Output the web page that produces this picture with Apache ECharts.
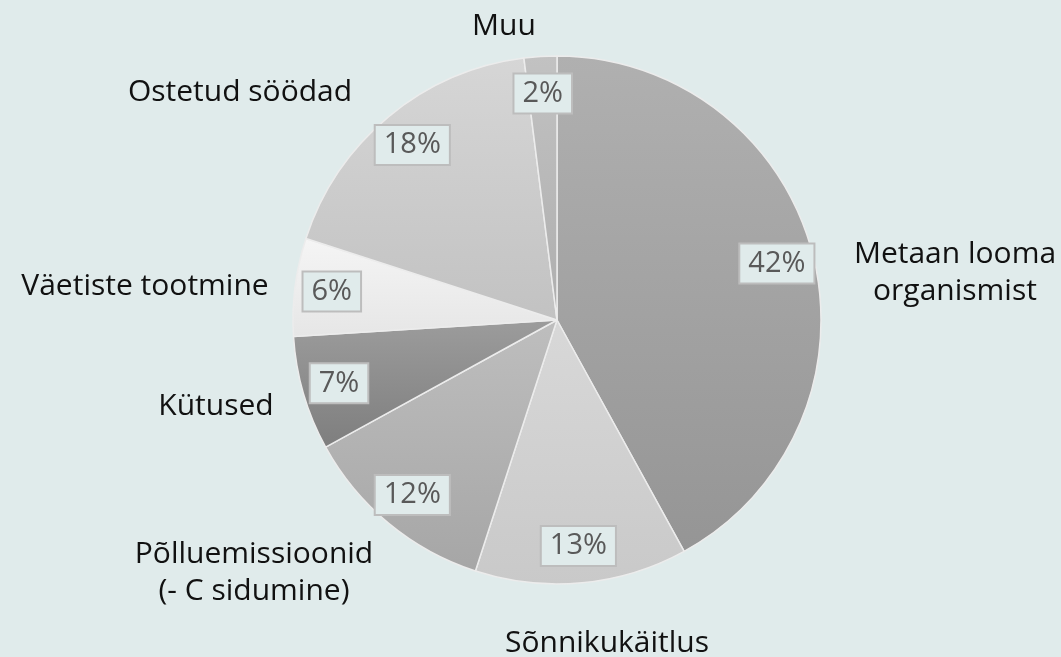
<!DOCTYPE html>
<html><head><meta charset="utf-8">
<script src="https://cdn.jsdelivr.net/npm/echarts@6/dist/echarts.min.js"></script>
<style>html,body{margin:0;padding:0;background:#e0ebeb}#c{width:1061px;height:657px}</style>
</head><body><div id="c"></div>
<script>
// ---- data ----
const categories = ['Metaan looma\norganismist', 'Sõnnikukäitlus', 'Põlluemissioonid\n(- C sidumine)', 'Kütused', 'Väetiste tootmine', 'Ostetud söödad', 'Muu'];
const shares = [42, 13, 12, 7, 6, 18, 2];

// ---- styles / layout (not data) ----
const sliceTop    = ['#b0b0b0', '#d8d8d8', '#bebebe', '#9c9c9c', '#f5f5f5', '#d6d6d6', '#c2c2c2'];
const sliceBottom = ['#959595', '#c9c9c9', '#a6a6a6', '#7e7e7e', '#e6e6e6', '#c2c2c2', '#aeaeae'];
const nameLabelAnchors = [[955, 273], [607, 643], [254, 573], [216, 406], [145, 286], [240, 92], [504, 26]];
const FONT = '"Open Sans"';
const CENTER = [557, 320];
const R = 264;

const chart = echarts.init(document.getElementById('c'), null, {renderer: 'canvas'});

const pieData = categories.map((name, i) => ({
  name: name,
  value: shares[i],
  itemStyle: {
    color: new echarts.graphic.LinearGradient(0, 0, 0, 1, [
      {offset: 0, color: sliceTop[i]},
      {offset: 1, color: sliceBottom[i]}
    ])
  }
}));

chart.setOption({
  backgroundColor: '#e0ebeb',
  animation: false,
  series: [
    {
      type: 'pie',
      center: CENTER,
      radius: R,
      startAngle: 90,
      clockwise: true,
      silent: true,
      data: pieData,
      itemStyle: {borderColor: '#ececec', borderWidth: 1.5},
      label: {
        show: true,
        position: 'outside',
        overflow: 'none',
        edgeDistance: 0,
        formatter: p => p.name.split('\n').map(s => '{n|' + s + '}').join('\n'),
        rich: {n: {fontFamily: FONT, fontSize: 30, color: '#111111', align: 'center', lineHeight: 37}},
        fontFamily: FONT, fontSize: 30, color: '#111111'
      },
      labelLine: {show: false},
      labelLayout: p => ({
        x: nameLabelAnchors[p.dataIndex][0],
        y: nameLabelAnchors[p.dataIndex][1],
        align: 'center',
        verticalAlign: 'middle'
      }),
      emphasis: {disabled: true}
    },
    {
      type: 'pie',
      center: CENTER,
      radius: [184, R],
      startAngle: 90,
      clockwise: true,
      silent: true,
      data: categories.map((name, i) => ({name: name, value: shares[i]})),
      itemStyle: {color: 'rgba(0,0,0,0)', borderWidth: 0},
      label: {
        show: true,
        position: 'inside',
        rotate: 0,
        formatter: p => p.value + '%',
        fontFamily: FONT,
        fontSize: 29,
        color: '#595959',
        backgroundColor: '#e0ebeb',
        borderColor: '#bdbdbd',
        borderWidth: 2,
        padding: [5, 8, 4, 8]
      },
      labelLine: {show: false},
      emphasis: {disabled: true}
    }
  ]
});
</script>
</body></html>
